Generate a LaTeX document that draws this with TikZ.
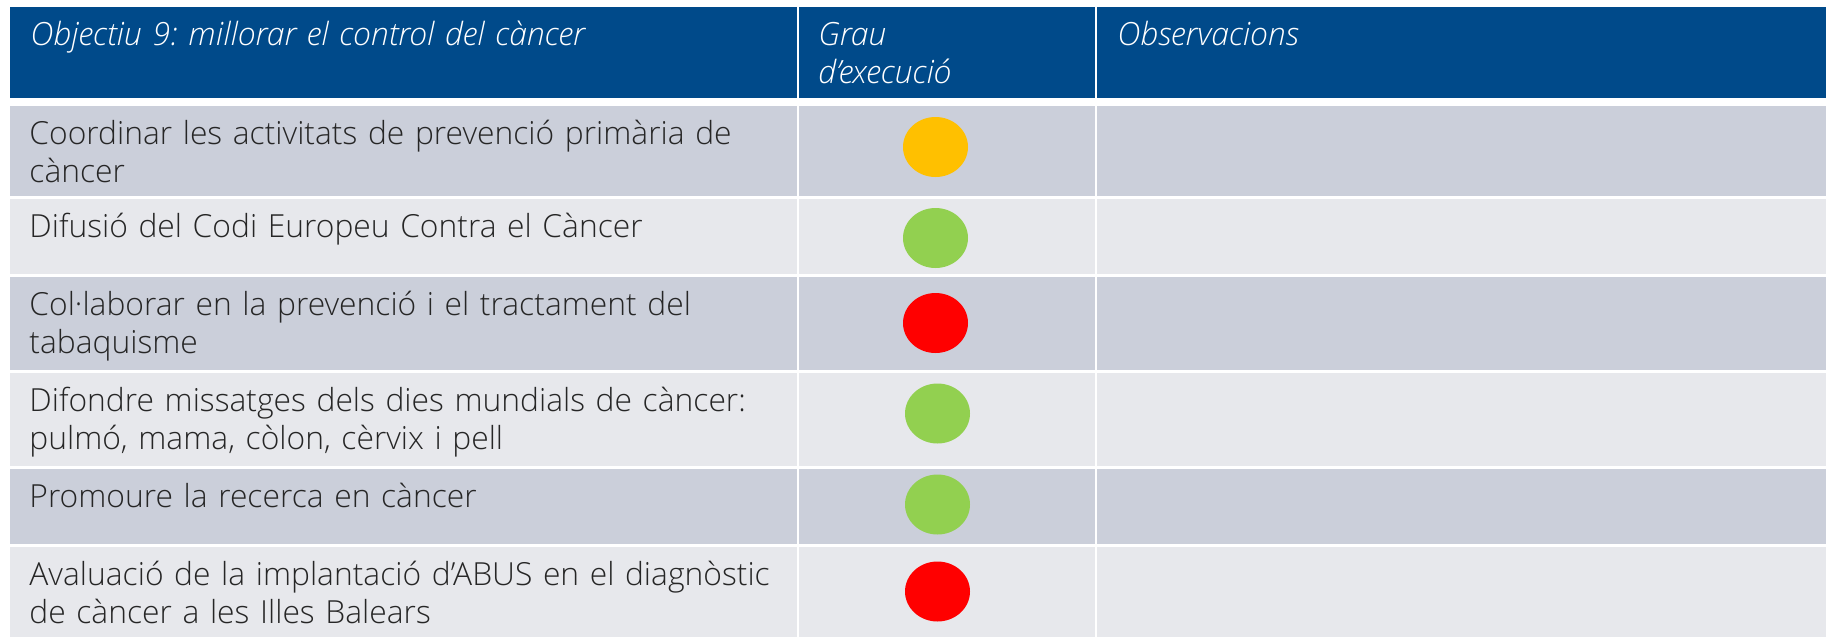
\documentclass[tikz,border=0pt]{standalone}
\usepackage{fontspec}
\IfFontExistsTF{Open Sans Light}{\setmainfont{Open Sans Light}}{\setmainfont{Open Sans}}
\usetikzlibrary{shapes.geometric}
\definecolor{hdrblue}{HTML}{004A8A}
\definecolor{rowdark}{HTML}{CBCFDA}
\definecolor{rowlight}{HTML}{E7E8EC}
\definecolor{txtgray}{HTML}{262626}
\definecolor{dotyellow}{HTML}{FFC000}
\definecolor{dotgreen}{HTML}{92D050}
\definecolor{dotred}{HTML}{FF0000}
\frenchspacing
\hyphenpenalty=10000
\tikzset{
  hdrtext/.style={anchor=base west, inner sep=0pt, text=white, text width=440pt, align=left,
    font=\fontsize{16}{19}\selectfont\itshape},
  bodytext/.style={anchor=base west, inner sep=0pt, text=txtgray, text width=440pt, align=left,
    font=\fontsize{15.9}{19.2}\selectfont},
  dot/.style={ellipse, minimum width=32.5pt, minimum height=30pt, inner sep=0pt, draw=none}
}
\begin{document}
\begin{tikzpicture}[x=0.5pt,y=-0.5pt]
\useasboundingbox (0,0) rectangle (1826,637);
\fill[white] (0,0) rectangle (1826,637);
% header
\fill[hdrblue] (10,7) rectangle (797,98);
\fill[hdrblue] (799,7) rectangle (1095,98);
\fill[hdrblue] (1097,7) rectangle (1826,98);
% rows
\foreach \ya/\yb/\c in {106/196/rowdark, 199/274/rowlight, 277/370/rowdark, 373/466/rowlight, 469/544/rowdark, 547/637/rowlight}{
  \fill[\c] (10,\ya) rectangle (797,\yb);
  \fill[\c] (799,\ya) rectangle (1095,\yb);
  \fill[\c] (1097,\ya) rectangle (1826,\yb);
}
% header texts
\node[hdrtext] (h1) at (30,45) {Objectiu 9: millorar el control del càncer};
\node[hdrtext, text width=140pt] (h2) at (818,45) {Grau\\d’execució};
\node[hdrtext] (h3) at (1117,45) {Observacions};
% body texts
\node[bodytext] (r1) at (29,144) {Coordinar les activitats de prevenció primària de\\càncer};
\node[bodytext] (r2) at (29,237) {Difusió del Codi Europeu Contra el Càncer};
\node[bodytext] (r3) at (29,315) {Col·laborar en la prevenció i el tractament del\\tabaquisme};
\node[bodytext] (r4) at (29,411) {Difondre missatges dels dies mundials de càncer:\\pulmó, mama, còlon, cèrvix i pell};
\node[bodytext] (r5) at (29,507) {Promoure la recerca en càncer};
\node[bodytext] (r6) at (29,585) {Avaluació de la implantació d’ABUS en el diagnòstic\\de càncer a les Illes Balears};
% status dots
\node[dot, fill=dotyellow] (d1) at (935.5,147) {};
\node[dot, fill=dotgreen] (d2) at (935.5,238) {};
\node[dot, fill=dotred] (d3) at (935.5,323) {};
\node[dot, fill=dotgreen] (d4) at (937.5,413.5) {};
\node[dot, fill=dotgreen] (d5) at (937.5,504.5) {};
\node[dot, fill=dotred] (d6) at (937.5,591.5) {};
\end{tikzpicture}
\end{document}
